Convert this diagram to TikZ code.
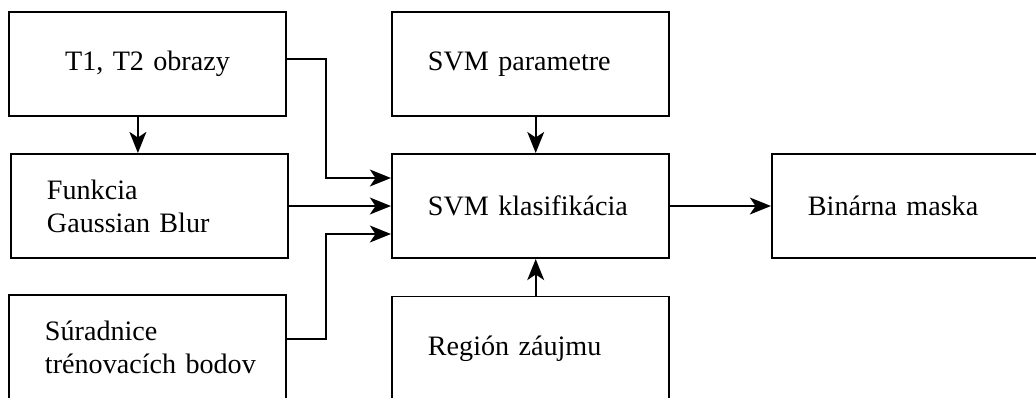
\documentclass[tikz,border=0pt]{standalone}
\usepackage{fontspec}
\setmainfont{Liberation Serif}
\usetikzlibrary{arrows.meta,positioning}

\tikzset{
  blok/.style={draw, line width=1.4pt, rectangle, minimum height=2.6cm, text width=6.325cm,
    inner xsep=0.3cm, inner ysep=0pt, align=center, font=\fontsize{20pt}{23.5pt}\selectfont},
  vlavo/.style={blok, align=left, execute at begin node={\leftskip=0.6cm\relax}},
  sipka/.style={line width=1.4pt, -{Stealth[length=15pt,width=12pt,inset=4pt]}}
}

\begin{document}
\begin{tikzpicture}[x=0.025cm,y=-0.025cm]
    \useasboundingbox (0,0) rectangle (1036,397);
    \clip (0,0) rectangle (1036,397);

    % vstupy
    \node[blok] (obrazy) at (147.5,64) {T1, T2 obrazy};
    \node[vlavo] (gauss) at (149.5,206) {Funkcia\\Gaussian Blur};
    \node[vlavo] (suradnice) at (147.5,347) {Súradnice\\trénovacích bodov};

    % klasifikacia
    \node[vlavo] (param) at (530.5,64) {SVM parametre};
    \node[vlavo] (klas) at (530.5,206) {SVM klasifikácia};
    \node[vlavo] (region) at (530.5,348.5) {Región záujmu};
    \node[vlavo] (maska) at (910.5,206) {Binárna maska};

    \draw[sipka] ([xshift=-0.24cm]obrazy.south) -- ([xshift=-0.24cm]obrazy.south |- gauss.north);
    \draw[sipka] ([yshift=0.12cm]obrazy.east) -- ++(39,0) |- ([yshift=0.7cm]klas.west);
    \draw[sipka] (gauss.east) -- (gauss.east -| klas.west);
    \draw[sipka] ([yshift=0.2cm]suradnice.east) -- ++(39,0) |- ([yshift=-0.7cm]klas.west);
    \draw[sipka] ([xshift=0.13cm]param.south) -- ([xshift=0.13cm]klas.north);
    \draw[sipka] ([xshift=0.13cm]region.north) -- ([xshift=0.13cm]klas.south);
    \draw[sipka] (klas.east) -- (maska.west);
\end{tikzpicture}
\end{document}
